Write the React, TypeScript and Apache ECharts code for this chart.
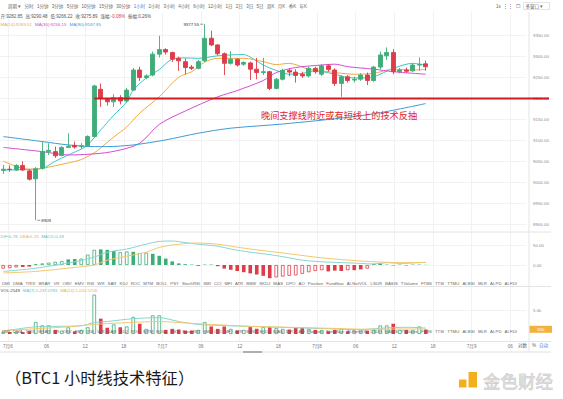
import React, { useEffect, useRef } from 'react';
import * as echarts from 'echarts';

// ---------------- data ----------------
const dayNames = ['7月6', '7月7', '7月8', '7月9'];
const xTickLabels = ['7月6', '06', '12', '18', '7月7', '06', '12', '18', '7月8', '06', '12', '18', '7月9', '06'];
const slotCount = 81;
const categories = Array.from({ length: slotCount }, (_, i) => `${dayNames[Math.floor(i / 24)]} ${String(i % 24).padStart(2, '0')}:00`);

const opens = [
  9028, 9031, 9029, 9040, 9027, 9008, 9033, 9073, 9073, 9064,
  9083, 9088, 9085, 9087, 9109, 9222, 9199, 9192, 9202, 9194,
  9220, 9268, 9250, 9256, 9306, 9317, 9310, 9296, 9288, 9275,
  9272, 9290, 9344, 9328, 9307, 9284, 9294, 9282, 9285, 9270,
  9262, 9264, 9224, 9246, 9267, 9263, 9258, 9254, 9272, 9258,
  9278, 9268, 9236, 9252, 9244, 9246, 9256, 9243, 9275, 9302,
  9310, 9264, 9268, 9266, 9280, 9282.85,
];
const closes = [
  9031, 9030, 9040, 9029, 9007, 9032, 9073, 9076, 9063, 9083,
  9086, 9084, 9087, 9109, 9230, 9200, 9192, 9202, 9194, 9220,
  9268, 9250, 9254, 9306, 9317, 9311, 9294, 9290, 9274, 9272,
  9288, 9344, 9328, 9307, 9284, 9294, 9280, 9286, 9270, 9262,
  9264, 9224, 9246, 9267, 9263, 9255, 9254, 9272, 9264, 9278,
  9269, 9236, 9252, 9243, 9246, 9256, 9243, 9275, 9304, 9310,
  9264, 9268, 9265, 9280, 9281, 9275.89,
];
const lows = [
  9020, 9025, 9027, 9027, 9004, 8909, 9030, 9065, 9058, 9062,
  9082, 9080, 9080, 9085, 9107, 9180, 9183, 9180, 9186, 9190,
  9218, 9242, 9246, 9253, 9298, 9305, 9287, 9266, 9258, 9268,
  9270, 9287, 9325, 9303, 9256, 9281, 9276, 9278, 9244, 9246,
  9256, 9220, 9222, 9243, 9253, 9238, 9249, 9250, 9259, 9254,
  9264, 9230, 9204, 9238, 9238, 9242, 9232, 9240, 9270, 9292,
  9258, 9260, 9261, 9264, 9266, 9266.22,
];
const highs = [
  9041, 9040, 9043, 9050, 9030, 9036, 9097, 9093, 9085, 9086,
  9117, 9097, 9093, 9112, 9233, 9236, 9201, 9210, 9208, 9225,
  9273, 9276, 9258, 9312, 9350, 9320, 9312, 9300, 9296, 9280,
  9292, 9377.55, 9362, 9330, 9310, 9313, 9296, 9289, 9288, 9297,
  9297, 9266, 9249, 9271, 9272, 9270, 9264, 9276, 9276, 9282,
  9282, 9272, 9256, 9256, 9252, 9260, 9262, 9278, 9312, 9322,
  9318, 9273, 9274, 9284, 9298, 9290.48,
];

// moving averages: [candle index, price]
const ma7Points = [[0, 9029], [3, 9030], [6, 9033], [8, 9050], [10, 9065], [12, 9079], [13, 9089], [15, 9125], [17, 9160], [19, 9192], [20, 9220], [22, 9249], [24, 9269], [26, 9294], [28, 9297], [30, 9296], [33, 9302], [37, 9305], [38, 9299], [40, 9280], [42, 9267], [44, 9258], [46, 9260], [48, 9266], [51, 9258], [53, 9250], [55, 9249], [57, 9252], [60, 9272], [63, 9284], [65, 9280]];
const ma14Points = [[0, 9050], [3, 9033], [5, 9031], [6, 9033], [10, 9046], [12, 9054], [14, 9070], [15, 9082], [17, 9108], [19, 9132], [21, 9165], [24, 9204], [27, 9251], [29, 9264], [31, 9287], [33, 9296], [37, 9296], [40, 9288], [42, 9281], [44, 9284], [47, 9270], [50, 9264], [54, 9258], [57, 9260], [60, 9270], [63, 9268], [65, 9269.51]];
const ma30Points = [[0, 9083], [6, 9073], [10, 9065], [15, 9069], [18, 9077], [21, 9093], [24, 9138], [28, 9170], [33, 9204], [36, 9219], [40, 9243], [42, 9262], [45, 9274], [49, 9280], [51, 9282], [53, 9276], [57, 9270], [60, 9264], [65, 9258]];
const ma90Points = [[0, 9109], [6, 9097], [10, 9089], [14, 9085], [16, 9085], [20, 9089], [25, 9101], [30, 9117], [35, 9129], [43, 9139], [53, 9155], [58, 9166], [65, 9187.85]];

const volumes = [
  500, 400, 500, 400, 600, 2500, 1800, 1800, 850, 700,
  1400, 570, 850, 1400, 8200, 3200, 1300, 2000, 1400, 1570,
  3570, 2140, 1070, 3900, 3900, 860, 1070, 930, 710, 710,
  860, 2500, 1570, 1070, 1570, 1070, 710, 860, 1430, 1070,
  1430, 1430, 1210, 1070, 930, 1430, 1430, 1070, 860, 860,
  570, 860, 1070, 570, 710, 710, 710, 860, 1790, 1790,
  2140, 860, 860, 860, 1570, 930,
];
const volMa7Points = [[0, 600], [5, 1500], [12, 1700], [14, 2400], [16, 2600], [20, 3200], [24, 3400], [27, 2600], [30, 2000], [35, 1700], [40, 1500], [45, 1300], [50, 1100], [55, 900], [58, 1200], [62, 1400], [65, 1237]];
const volMa14Points = [[0, 700], [5, 1100], [10, 1500], [14, 2000], [18, 2300], [24, 2600], [28, 2300], [32, 2000], [38, 1600], [44, 1400], [50, 1200], [56, 1000], [62, 1050], [65, 1025]];

const macdHist = [
  -9, -8, -6, -5, -4, 2, 4, 6, 8, 10,
  14, 15, 16, 26, 38, 39, 38, 35, 32, 34,
  33, 30, 31, 28, 23, 16, 9, 4, 2, 1,
  -2, 1, 1, -3, -9, -12, -15, -18, -21, -24,
  -27, -33, -31, -29, -27, -26, -22, -18, -15, -13,
  -16, -14, -15, -13, -13, -11, -9, 3, 4, 1,
  -1, 1, -1, 1, 1, 0.49,
];
const macdHollow = [
  1, 1, 1, 0, 0, 1, 1, 1, 1, 1,
  0, 0, 1, 1, 1, 0, 0, 0, 1, 1,
  0, 1, 1, 0, 0, 0, 0, 0, 0, 0,
  0, 0, 0, 0, 0, 0, 0, 0, 0, 0,
  0, 0, 1, 1, 1, 1, 1, 1, 1, 1,
  0, 0, 0, 1, 0, 0, 1, 0, 0, 0,
  0, 0, 0, 0, 0, 0,
];
const difPoints = [[0, -16], [5, -8], [11, 8], [14, 20], [16, 32], [19, 40], [22, 52], [24, 59], [26, 60], [28, 56], [30, 52], [33, 47], [35, 40], [38, 32], [41, 26], [44, 18], [46, 12], [49, 8], [52, 6], [55, 4], [57, 2.4], [59, 6], [61, 4], [65, 6.78]];
const deaPoints = [[0, -20], [5, -16], [11, -6], [14, 0], [16, 12], [22, 32], [24, 44], [27, 52], [30, 55], [33, 52], [35, 47], [38, 40], [44, 28], [49, 18], [55, 10], [61, 6], [65, 6.29]];

const supportLevel = 9200;
const supportStartIndex = 14;
const lastPrice = 9275.89;
const highMark = { index: 31, value: 9377.55, label: '9377.55' };
const lowMark = { index: 5, value: 8909, label: '8909' };

const toolbarItems = ['周期 ▾', '分时', '1分钟', '3分钟', '5分钟', '10分钟', '15分钟', '30分钟', '1小时', '2小时', '3小时', '4小时', '6小时', '12小时', '1日', '2日', '3日', '5日', '周K', '月K', '季K', '年K'];
const indicatorTabs = ['DMI', 'DMA', 'TRIX', 'BRAR', 'VR', 'OBV', 'EMV', 'RSI', 'WR', 'SAR', 'KDJ', 'ROC', 'MTM', 'BOLL', 'PSY', 'StochRSI', 'SMI', 'CCI', 'MFI', 'ATR', 'BBW', 'SKDJ', 'BIAS', 'DPO', 'AO', 'Position', 'Fundflow', 'AI-NetVOL', 'LSUR', 'BASIS', 'TVolume', 'FTBS', 'TTSI', 'TTMU', 'AI-BSI', 'MLR', 'AI-PD', 'AI-FDI'];

// ---------------- styling ----------------
const FONT = 'Arial, "Liberation Sans", "Noto Sans CJK SC", sans-serif';
const CJK = '"Noto Sans CJK SC", "Noto Sans CJK JP", sans-serif';
const UP = '#3fad79';
const DOWN = '#dd3c48';
const C_TEAL = '#3fc4c6';
const C_ORANGE = '#f2aa38';
const C_MAGENTA = '#d64ccd';
const C_BLUE = '#3b9bd8';
const GRID_W = 526.5;

let measureCtx: CanvasRenderingContext2D | null = null;
function measure(text: string, size: number, family = FONT) {
  if (!measureCtx) measureCtx = document.createElement('canvas').getContext('2d');
  if (!measureCtx) return text.length * size * 0.6;
  measureCtx.font = `${size}px ${family}`;
  return measureCtx.measureText(text).width;
}

function txt(text: string, x: number, y: number, size: number, fill: string, align = 'left', family = FONT, extra: any = {}) {
  return {
    type: 'text', x, y, z: 50,
    style: { text, fill, fontSize: size, fontFamily: family, align, textAlign: align, verticalAlign: 'middle', textVerticalAlign: 'middle', ...extra },
  };
}
function hline(x1: number, x2: number, y: number, stroke: string, lineWidth = 1, z = 5) {
  return { type: 'line', z, shape: { x1, y1: y, x2, y2: y }, style: { stroke, lineWidth } };
}
function spread(items: { text: string; color: string }[], x0: number, x1: number, y: number, size: number) {
  const widths = items.map((it) => measure(it.text, size));
  const total = widths.reduce((a, b) => a + b, 0);
  const gap = (x1 - x0 - total) / (items.length - 1);
  let x = x0;
  return items.map((it, i) => {
    const el = txt(it.text, x, y, size, it.color);
    x += widths[i] + gap;
    return el;
  });
}
function flowGap(items: { text: string; color: string; gap?: number }[], x0: number, y: number, size: number, gap: number) {
  let x = x0;
  return items.map((it) => {
    const el = txt(it.text, x, y, size, it.color);
    x += measure(it.text, size) + (it.gap ?? gap);
    return el;
  });
}

function lineSeries(data: number[][], color: string, axis: number, width = 1) {
  return {
    type: 'line', xAxisIndex: axis, yAxisIndex: axis, data, showSymbol: false, symbol: 'none',
    smooth: 0.3, lineStyle: { color, width }, silent: true, z: 3,
  };
}

function buildOption() {
  const ohlc = opens.map((o, i) => [o, closes[i], lows[i], highs[i]]);
  const macdData = macdHist.map((v, i) => {
    const c = v >= 0 ? UP : DOWN;
    return { value: v, itemStyle: macdHollow[i] ? { color: '#ffffff', borderColor: c, borderWidth: 0.8 } : { color: c } };
  });
  const volData = volumes.map((v, i) => {
    const up = closes[i] >= opens[i];
    return { value: v, itemStyle: up ? { color: '#ffffff', borderColor: UP, borderWidth: 0.8 } : { color: DOWN } };
  });
  const faint = '#efefef';
  const none = 'rgba(0,0,0,0)';
  const mainSplitColors = [faint, faint, faint, faint, faint, faint, faint, faint, faint, faint, none];
  const axisLabelBase = { fontSize: 4.4, color: '#8c8c8c', fontFamily: FONT, margin: 6.5, align: 'left' };

  return {
    animation: false,
    backgroundColor: '#ffffff',
    grid: [
      { left: 3.25, top: 12, width: 507, height: 329.5 },
      { left: 0, top: 14.8, width: GRID_W, height: 209.2 },
      { left: 0, top: 225, width: GRID_W, height: 60 },
      { left: 0, top: 286, width: GRID_W, height: 48 },
    ],
    xAxis: [
      {
        type: 'value', gridIndex: 0, min: 0, max: 78, interval: 6,
        axisLine: { show: false }, axisTick: { show: false },
        splitLine: { show: true, lineStyle: { color: '#efefef', width: 0.8 } },
        axisLabel: { fontSize: 4.6, color: '#777', fontFamily: FONT, margin: 2.5, formatter: (v: number) => xTickLabels[Math.round(v / 6)] ?? '' },
      },
      { type: 'category', gridIndex: 1, data: categories, show: false },
      { type: 'category', gridIndex: 2, data: categories, show: false },
      { type: 'category', gridIndex: 3, data: categories, show: false },
    ],
    yAxis: [
      { type: 'value', gridIndex: 0, show: false, min: 0, max: 1 },
      {
        type: 'value', gridIndex: 1, position: 'right', min: 8900, max: 9400, interval: 50,
        axisLine: { show: false }, axisTick: { show: false },
        axisLabel: { ...axisLabelBase, formatter: (v: number) => (v >= 9400 ? '' : v.toFixed(2)) },
        splitLine: { show: true, lineStyle: { color: mainSplitColors, width: 0.8 } },
      },
      {
        type: 'value', gridIndex: 2, position: 'right', min: -50, max: 100, interval: 50,
        axisLine: { show: false }, axisTick: { show: false },
        axisLabel: { ...axisLabelBase, formatter: (v: number) => (v === 0 || v === 50 ? v.toFixed(2) : '') },
        splitLine: { show: true, lineStyle: { color: [none, faint, faint, none], width: 0.8 } },
      },
      {
        type: 'value', gridIndex: 3, position: 'right', min: 0, max: 10000, interval: 5000,
        axisLine: { show: false }, axisTick: { show: false },
        axisLabel: { ...axisLabelBase, formatter: (v: number) => (v === 5000 ? '5.0k' : '') },
        splitLine: { show: true, lineStyle: { color: [none, faint, none], width: 0.8 } },
      },
    ],
    series: [
      {
        type: 'candlestick', xAxisIndex: 1, yAxisIndex: 1, barWidth: 4.4, data: ohlc, z: 4,
        itemStyle: { color: UP, color0: DOWN, borderColor: UP, borderColor0: DOWN, borderWidth: 0.9 },
        markLine: {
          silent: true, symbol: ['none', 'none'],
          lineStyle: { opacity: 0 },
          label: {
            show: true, position: 'end', distance: 3.5, formatter: () => lastPrice.toFixed(2),
            backgroundColor: DOWN, color: '#fff', fontSize: 4.4, fontFamily: FONT, padding: [1.6, 3.2],
          },
          data: [{ yAxis: lastPrice }],
        },
      },
      lineSeries(ma7Points, C_TEAL, 1),
      lineSeries(ma14Points, C_ORANGE, 1),
      lineSeries(ma30Points, C_MAGENTA, 1),
      lineSeries(ma90Points, C_BLUE, 1),
      { type: 'bar', xAxisIndex: 2, yAxisIndex: 2, data: macdData, barWidth: 3.6, silent: true },
      lineSeries(difPoints, '#86d6cf', 2),
      lineSeries(deaPoints, '#f3c76f', 2),
      { type: 'bar', xAxisIndex: 3, yAxisIndex: 3, data: volData, barWidth: 3.6, silent: true },
      lineSeries(volMa7Points, '#86d6cf', 3),
      lineSeries(volMa14Points, '#f3c76f', 3),
    ],
  };
}

function buildGraphics(chart: any) {
  const g: any[] = [];
  const gray = '#666';
  const sep = '#e4e4e4';

  // panel frame lines
  g.push(hline(0, 551, 232, sep));
  g.push(hline(0, 551, 286.5, sep));
  g.push(hline(0, 551, 341.5, sep));
  g.push({ type: 'line', z: 5, shape: { x1: 529, y1: 12, x2: 529, y2: 352 }, style: { stroke: sep, lineWidth: 1 } });
  g.push(hline(0, 551, 352, '#e0e0e0'));
  g.push(hline(243, 262, 352, '#9a9a9a', 1.5, 6));

  // toolbar
  g.push(...spread(toolbarItems.map((t) => ({ text: t, color: t === '1小时' ? '#3b7fe0' : gray })), 8, 307, 6, 4.5));
  g.push(...flowGap([
    { text: '1s', color: gray },
    { text: '⋮⋮', color: gray },
    { text: '☐', color: gray },
  ], 496, 6, 4.5, 2.5));
  g.push({ type: 'rect', z: 50, shape: { x: 523.5, y: 2.5, width: 26, height: 7 }, style: { fill: 'none', stroke: '#d0d0d0', lineWidth: 0.6 } });
  g.push(txt('多窗口 ▾', 525.5, 6, 4.5, gray));

  // header row 1
  g.push(...flowGap([
    { text: '开:9282.85', color: '#555' },
    { text: '高:9290.48', color: '#555' },
    { text: '低:9266.22', color: '#555' },
    { text: '收:9275.89', color: '#555' },
    { text: '涨幅:', color: '#555', gap: 0 },
    { text: '-0.08%', color: DOWN },
    { text: '振幅:0.26%', color: '#555' },
  ], 0.5, 16, 4.5, 3));
  // header row 2
  g.push(...flowGap([
    { text: 'MA(14):9269.51', color: C_ORANGE },
    { text: 'MA(30):9256.15', color: C_MAGENTA },
    { text: 'MA(90):9187.85', color: C_BLUE },
  ], 0.5, 24, 4.4, 3));

  // MACD legend
  g.push(...flowGap([
    { text: 'DIF:6.78', color: '#5cc6bd' },
    { text: 'DEA:6.29', color: '#e9b24c' },
    { text: 'MACD:0.49', color: '#5cc6bd' },
  ], 0.5, 236.5, 4.4, 2.5));

  // indicator tab rows
  const tabs = indicatorTabs.map((t) => ({ text: t, color: gray }));
  g.push(...spread(tabs, 2, 517, 283.3, 4.3));
  g.push(...spread(tabs, 2, 517, 331, 4.3));

  // volume legend
  g.push(...flowGap([
    { text: 'VOL:2549', color: '#444' },
    { text: 'MA(7):1,237.0783', color: '#5cc6bd' },
    { text: 'MA(14):1,024.5708', color: '#e9b24c' },
  ], 0.5, 290.5, 4.3, 3));
  g.push({ type: 'rect', z: 50, shape: { x: 529.5, y: 325.8, width: 22.5, height: 7 }, style: { fill: '#f4b13e' } });
  g.push(txt('930', 540.75, 329.3, 4.3, '#fff', 'center'));

  // bottom-right axis controls
  g.push(txt('对数', 518, 345.5, 4.6, gray));
  g.push(txt('%', 532, 345.5, 4.6, gray));
  g.push(txt('自动', 539, 345.5, 4.6, '#4a86e8'));

  // support line (through library scale)
  const sp = chart.convertToPixel({ gridIndex: 1 }, [supportStartIndex, supportLevel]);
  g.push({ type: 'line', z: 60, shape: { x1: sp[0], y1: sp[1], x2: 549, y2: sp[1] }, style: { stroke: '#cf1b22', lineWidth: 2 } });

  // high / low marks
  const hp = chart.convertToPixel({ gridIndex: 1 }, [highMark.index, highMark.value]);
  g.push(hline(hp[0] - 4.5, hp[0] - 1.5, hp[1], '#555', 0.6, 50));
  g.push(txt(highMark.label, hp[0] - 5.5, hp[1], 4.4, '#333', 'right'));
  const lp = chart.convertToPixel({ gridIndex: 1 }, [lowMark.index, lowMark.value]);
  g.push(hline(lp[0] + 1.5, lp[0] + 4.5, lp[1], '#555', 0.6, 50));
  g.push(txt(lowMark.label, lp[0] + 5.5, lp[1], 4.4, '#333', 'left'));

  // annotation
  g.push(txt('晚间支撑线附近或有短线上的技术反抽', 261, 114.5, 9.2, '#e0262b', 'left', CJK));

  // caption & logo
  g.push(txt('（BTC1 小时线技术特征）', 5, 377, 16.3, '#1a1a1a', 'left', CJK));
  g.push({ type: 'rect', z: 50, shape: { x: 459, y: 379.5, width: 7.5, height: 8 }, style: { fill: '#f2b01e' } });
  g.push({ type: 'rect', z: 50, shape: { x: 468.5, y: 372, width: 8.5, height: 15.5 }, style: { fill: '#f2b01e' } });
  g.push(txt('金色财经', 483, 380.5, 17.5, '#dadada', 'left', CJK, { stroke: '#b5b5b5', lineWidth: 0.5 }));

  return g;
}

export default function App() {
  const ref = useRef<HTMLDivElement>(null);
  useEffect(() => {
    document.body.style.margin = '0';
    const el = ref.current;
    if (!el) return;
    const chart = echarts.init(el, null, { renderer: 'svg' });
    chart.setOption(buildOption() as any);
    chart.setOption({ graphic: buildGraphics(chart) } as any);
    return () => chart.dispose();
  }, []);
  return <div ref={ref} style={{ width: 563, height: 399 }} />;
}
